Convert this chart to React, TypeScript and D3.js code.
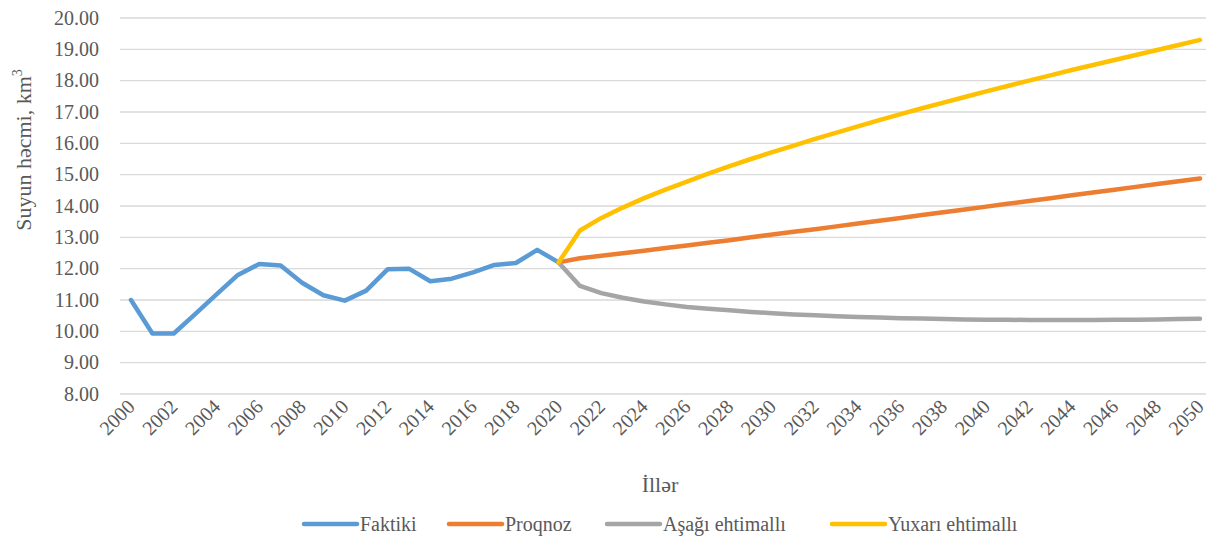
import React from "react"
import { scaleLinear, line } from "d3"

const width = 1206
const height = 541

const years = Array.from({ length: 51 }, (_, i) => 2000 + i)
const tickYears = years.filter(y => y % 2 === 0)
const yTicks = [8, 9, 10, 11, 12, 13, 14, 15, 16, 17, 18, 19, 20]

const factYears = years.slice(0, 21)
const faktiki = [11.0, 9.93, 9.93, 10.55, 11.18, 11.8, 12.15, 12.1, 11.55, 11.15, 10.98, 11.3, 11.98, 12.0, 11.6, 11.68, 11.88, 12.12, 12.18, 12.6, 12.2]

const forecastYears = years.slice(20)
const proqnoz = [12.2, 12.33, 12.41, 12.49, 12.57, 12.66, 12.74, 12.83, 12.91, 13.0, 13.09, 13.18, 13.26, 13.35, 13.44, 13.53, 13.62, 13.71, 13.8, 13.89, 13.98, 14.07, 14.16, 14.25, 14.34, 14.43, 14.52, 14.61, 14.7, 14.79, 14.88]
const asagi = [12.2, 11.45, 11.22, 11.07, 10.95, 10.86, 10.78, 10.72, 10.67, 10.62, 10.58, 10.54, 10.51, 10.48, 10.46, 10.44, 10.42, 10.41, 10.39, 10.38, 10.37, 10.37, 10.36, 10.36, 10.36, 10.36, 10.37, 10.37, 10.38, 10.39, 10.4]
const yuxari = [12.2, 13.22, 13.62, 13.95, 14.25, 14.52, 14.78, 15.03, 15.27, 15.5, 15.72, 15.93, 16.14, 16.34, 16.54, 16.74, 16.93, 17.12, 17.3, 17.48, 17.66, 17.83, 18.0, 18.17, 18.34, 18.5, 18.66, 18.82, 18.98, 19.14, 19.3]

const series = [
  { name: "Faktiki", color: "#5B9BD5", xs: factYears, values: faktiki },
  { name: "Proqnoz", color: "#ED7D31", xs: forecastYears, values: proqnoz },
  { name: "Aşağı ehtimallı", color: "#A5A5A5", xs: forecastYears, values: asagi },
  { name: "Yuxarı ehtimallı", color: "#FFC000", xs: forecastYears, values: yuxari },
]

// legend positions (line start x of each entry)
const legendX = [302, 447, 605, 830]

const font = "Times New Roman"
const textColor = "#595959"

function App() {
  const xScale = scaleLinear().domain([2000, 2050]).range([131, 1200])
  const yScale = scaleLinear().domain([8, 20]).range([394, 18])
  const plotLeft = 120
  const plotRight = 1211

  const lineGen = line<[number, number]>()
    .x(d => xScale(d[0]))
    .y(d => yScale(d[1]))

  return (
    <svg width={width} height={height} style={{ position: "absolute", left: 0, top: 0, background: "#fff", fontFamily: font }}>
      {yTicks.map(t => (
        <g key={t} transform={`translate(0, ${yScale(t)})`}>
          <line x1={plotLeft} x2={plotRight} stroke="#d9d9d9" strokeWidth={1.3} />
          <text x={99} dy="0.34em" textAnchor="end" fontSize={20} fill={textColor}>{t.toFixed(2)}</text>
        </g>
      ))}
      {tickYears.map(y => (
        <text
          key={y}
          transform={`translate(${xScale(y) + 5}, 408) rotate(-45)`}
          textAnchor="end"
          fontSize={20}
          fill={textColor}
        >{y}</text>
      ))}
      <text transform="translate(31, 150) rotate(-90)" textAnchor="middle" fontSize={22} fill={textColor}>
        Suyun həcmi, km<tspan dy="-9" fontSize={14}>3</tspan>
      </text>
      <text x={660} y={492} textAnchor="middle" fontSize={22} fill={textColor}>İllər</text>
      {series.map(s => (
        <path
          key={s.name}
          d={lineGen(s.xs.map((x, i) => [x, s.values[i]] as [number, number])) || ""}
          fill="none"
          stroke={s.color}
          strokeWidth={4.5}
          strokeLinejoin="round"
          strokeLinecap="round"
        />
      ))}
      {series.map((s, i) => (
        <g key={s.name} transform={`translate(${legendX[i]}, 524)`}>
          <line x1={2} x2={55} stroke={s.color} strokeWidth={4.5} strokeLinecap="round" />
          <text x={58} dy="0.34em" fontSize={20} fill={textColor}>{s.name}</text>
        </g>
      ))}
    </svg>
  )
}

export default App
